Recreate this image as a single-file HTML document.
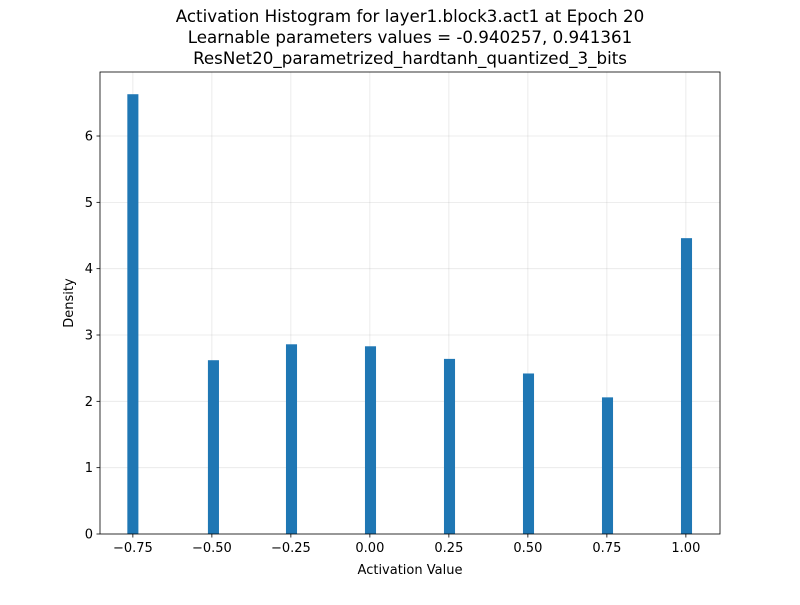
<!DOCTYPE html>
<html><head><meta charset="utf-8"><style>
body{margin:0;background:#fff;}
svg{font-family:"DejaVu Sans","Liberation Sans",sans-serif;}
</style></head><body>
<svg id="c" width="800" height="600" xmlns="http://www.w3.org/2000/svg">
<rect width="800" height="600" fill="#fff"/>
<g id="grid"></g><g id="bars"></g><g id="axes"></g>
<text x="410" y="22" text-anchor="middle" font-size="16.7">Activation Histogram for layer1.block3.act1 at Epoch 20</text>
<text x="410" y="43" text-anchor="middle" font-size="16.7">Learnable parameters values = -0.940257, 0.941361</text>
<text x="410" y="64" text-anchor="middle" font-size="16.7">ResNet20_parametrized_hardtanh_quantized_3_bits</text>
<text x="410" y="574" text-anchor="middle" font-size="13">Activation Value</text>
<text x="73" y="303" text-anchor="middle" font-size="13" transform="rotate(-90 73 303)">Density</text>
</svg>
<script>
const centers=[-0.75,-0.495,-0.248,0.002,0.252,0.502,0.752,1.002];
const densities=[6.63,2.62,2.86,2.83,2.64,2.42,2.06,4.46];
const xTicks=[-0.75,-0.5,-0.25,0,0.25,0.5,0.75,1.0];
const xTickLabels=["−0.75","−0.50","−0.25","0.00","0.25","0.50","0.75","1.00"];
const yTicks=[0,1,2,3,4,5,6];
const binWidth=0.035;
const L=100,R=720,T=72,B=534,xmin=-0.854,xmax=1.108,ymin=0,ymax=6.965;
const xs=v=>L+(v-xmin)/(xmax-xmin)*(R-L);
const ys=v=>B-(v-ymin)/(ymax-ymin)*(B-T);
const NS="http://www.w3.org/2000/svg";
function mk(p,t,a){const e=document.createElementNS(NS,t);for(const k in a)e.setAttribute(k,a[k]);p.appendChild(e);return e;}
const g=document.getElementById('grid'),b=document.getElementById('bars'),ax=document.getElementById('axes');
xTicks.forEach((v,i)=>{const x=xs(v);
 const l=mk(g,'line',{x1:x,x2:x,y1:T,y2:B,stroke:'#b0b0b0','stroke-opacity':0.3,'stroke-width':0.8});
 
 
 const t=mk(ax,'line',{x1:x,x2:x,y1:B,y2:B+3.5,stroke:'#000','stroke-width':0.8});
 
 
 const tx=mk(ax,'text',{x:x,y:B+18,'text-anchor':'middle','font-size':13});tx.textContent=xTickLabels[i];
 
 
});
yTicks.forEach(v=>{const y=ys(v);
 const l=mk(g,'line',{x1:L,x2:R,y1:y,y2:y,stroke:'#b0b0b0','stroke-opacity':0.3,'stroke-width':0.8});
 
 
 const t=mk(ax,'line',{x1:L-3.5,x2:L,y1:y,y2:y,stroke:'#000','stroke-width':0.8});
 
 
 const tx=mk(ax,'text',{x:L-7,y:y+4.5,'text-anchor':'end','font-size':13});tx.textContent=String(v);
 
 
});
centers.forEach((c,i)=>{const x0=xs(c-binWidth/2),x1=xs(c+binWidth/2);
 const r=mk(b,'rect',{x:x0,y:ys(densities[i]),width:x1-x0,height:ys(0)-ys(densities[i]),fill:'#1f77b4'});
 
 
});
const f=mk(ax,'rect',{x:L,y:T,width:R-L,height:B-T,fill:'none',stroke:'#000','stroke-width':0.8});


</script>
</body></html>
